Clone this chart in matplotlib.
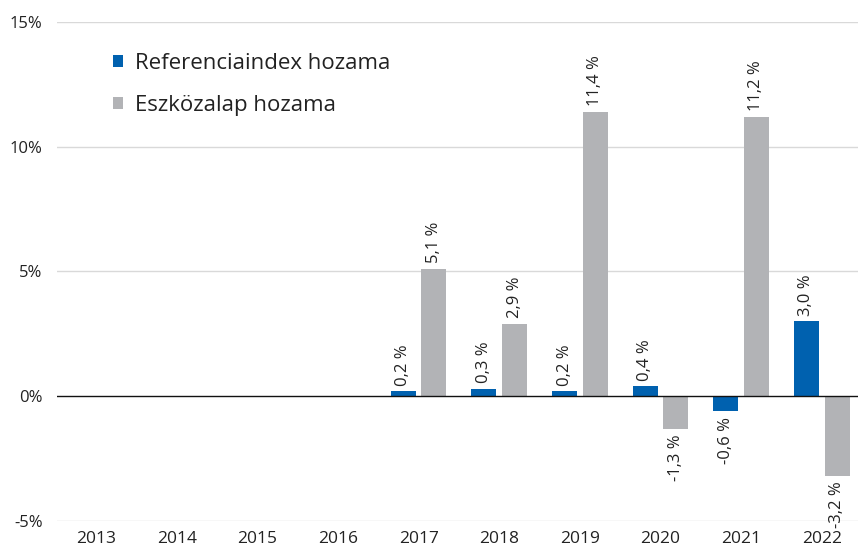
import matplotlib.pyplot as plt
import numpy as np

years = ['2013', '2014', '2015', '2016', '2017', '2018', '2019', '2020', '2021', '2022']
referencia = [np.nan, np.nan, np.nan, np.nan, 0.2, 0.3, 0.2, 0.4, -0.6, 3.0]
eszkozalap = [np.nan, np.nan, np.nan, np.nan, 5.1, 2.9, 11.4, -1.3, 11.2, -3.2]

BLUE = '#0061AF'
GREY = '#B2B3B6'

plt.rcParams['font.family'] = ['Open Sans', 'DejaVu Sans']

fig = plt.figure(figsize=(8.58, 5.54), dpi=100)
ax = fig.add_axes([0.066, 0.0596, 0.934, 0.9007])

x = np.arange(len(years))
width = 0.31
off = 0.19
b1 = ax.bar(x - off, referencia, width, color=BLUE, label='Referenciaindex hozama', zorder=3)
b2 = ax.bar(x + off, eszkozalap, width, color=GREY, label='Eszközalap hozama', zorder=3)

def fmt(v):
    return f'{v:.1f} %'.replace('.', ',')

for bars, vals in [(b1, referencia), (b2, eszkozalap)]:
    for bar, v in zip(bars, vals):
        if np.isnan(v):
            continue
        cx = bar.get_x() + bar.get_width() / 2
        if v >= 0:
            ax.annotate(fmt(v), (cx, v), xytext=(0, 4), textcoords='offset points',
                        rotation=90, ha='center', va='bottom', fontsize=12, color='#222222')
        else:
            ax.annotate(fmt(v), (cx, v), xytext=(0, -4), textcoords='offset points',
                        rotation=90, ha='center', va='top', fontsize=12, color='#222222')

ax.set_xlim(-0.49, 9.45)
ax.set_ylim(-5, 15)
ax.set_yticks([-5, 0, 5, 10, 15])
ax.set_yticklabels(['-5%', '0%', '5%', '10%', '15%'])
ax.set_xticks(x)
ax.set_xticklabels(years)
ax.tick_params(axis='both', length=0, labelsize=12, colors='#222222')
ax.tick_params(axis='x', labelsize=12.5, pad=7)
ax.tick_params(axis='y', pad=10)

for y in [-5, 5, 10, 15]:
    ax.axhline(y, color='#D9D9D9', linewidth=1, zorder=1)
ax.axhline(0, color='#111111', linewidth=1, zorder=4)

for s in ax.spines.values():
    s.set_visible(False)

leg = ax.legend(loc='upper left', bbox_to_anchor=(0.046, 0.978), frameon=False,
                fontsize=16, handlelength=0.45, handleheight=0.45, handletextpad=0.5,
                labelspacing=0.95, labelcolor='#222222')

fig.savefig('out.png', dpi=100)
